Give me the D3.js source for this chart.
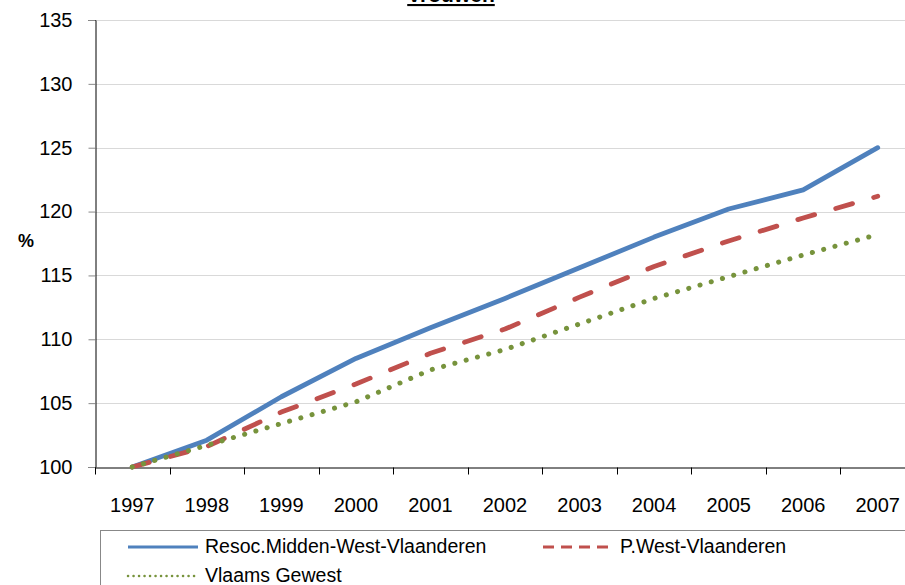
<!DOCTYPE html>
<html>
<head>
<meta charset="utf-8">
<script src="https://cdn.jsdelivr.net/npm/d3@7"></script>
<style>
  body { margin: 0; background: #fff; overflow: hidden; }
  text { font-family: "Liberation Sans", Arial, sans-serif; fill: #000; }
</style>
</head>
<body>
<div id="chart"></div>
<script>
// data
const years = ['1997', '1998', '1999', '2000', '2001', '2002', '2003', '2004', '2005', '2006', '2007'];
const resoc = [100, 102.1, 105.5, 108.5, 110.9, 113.2, 115.6, 118.0, 120.2, 121.7, 125.0];
const provincie = [100, 101.6, 104.3, 106.5, 108.9, 110.8, 113.3, 115.7, 117.7, 119.5, 121.2];
const vlaanderen = [100, 101.7, 103.4, 105.1, 107.6, 109.2, 111.2, 113.2, 114.9, 116.6, 118.2];
const yTicks = [100, 105, 110, 115, 120, 125, 130, 135];

const series = [
  { name: 'Resoc.Midden-West-Vlaanderen', values: resoc, color: '#4f81bd', dash: null, width: 4.8, legendDash: null },
  { name: 'P.West-Vlaanderen', values: provincie, color: '#c0504d', dash: '17.5 22', width: 4.8, legendDash: '11 7' },
  { name: 'Vlaams Gewest', values: vlaanderen, color: '#77933c', dash: '0.1 11.6', width: 5, legendDash: '0.1 5.4' }
];

const width = 905;
const height = 585;

const svg = d3.select('#chart').append('svg')
  .attr('width', width)
  .attr('height', height);

const x = d3.scaleBand().domain(years).range([95, 915]);
const y = d3.scaleLinear().domain([100, 135]).range([467, 20]);

// title (cut off at top, as in the original)
svg.append('text')
  .attr('x', 451).attr('y', 2)
  .attr('text-anchor', 'middle')
  .style('font-size', '21px').style('font-weight', 'bold')
  .style('text-decoration', 'underline')
  .text('Vrouwen');

// gridlines
svg.append('g').selectAll('line')
  .data(yTicks.filter(d => d > 100))
  .enter().append('line')
  .attr('x1', 95).attr('x2', width)
  .attr('y1', d => Math.round(y(d)) + 0.5).attr('y2', d => Math.round(y(d)) + 0.5)
  .attr('stroke', '#d9d9d9').attr('stroke-width', 1);

// y axis
const yAxis = svg.append('g')
  .attr('transform', 'translate(95.5,0)')
  .call(d3.axisLeft(y).tickValues(yTicks).tickSize(7).tickPadding(16));
yAxis.select('.domain').attr('stroke', '#000');
yAxis.selectAll('.tick line').attr('stroke', '#888');
yAxis.selectAll('text').style('font-size', '20px').style('font-family', '"Liberation Sans", Arial, sans-serif');

// x axis
const xAxis = svg.append('g')
  .attr('transform', 'translate(0,467.5)')
  .call(d3.axisBottom(x).tickSize(0).tickPadding(30).tickSizeOuter(0));
xAxis.select('.domain').attr('stroke', '#000');
xAxis.selectAll('text').style('font-size', '20px').style('font-family', '"Liberation Sans", Arial, sans-serif');
xAxis.selectAll('.mark')
  .data(years).enter().append('line')
  .attr('x1', d => Math.round(x(d)) + 0.5).attr('x2', d => Math.round(x(d)) + 0.5)
  .attr('y1', 0).attr('y2', 7)
  .attr('stroke', '#000');

// % label
svg.append('text')
  .attr('x', 26).attr('y', 247)
  .attr('text-anchor', 'middle')
  .style('font-size', '18px').style('font-weight', 'bold')
  .text('%');

// lines
const line = d3.line()
  .x((d, i) => x(years[i]) + x.bandwidth() / 2)
  .y(d => y(d));

svg.append('g').selectAll('path')
  .data(series)
  .enter().append('path')
  .attr('d', d => line(d.values))
  .attr('fill', 'none')
  .attr('stroke', d => d.color)
  .attr('stroke-width', d => d.width)
  .attr('stroke-dasharray', d => d.dash)
  .attr('stroke-linecap', 'round')
  .attr('stroke-linejoin', 'round');

// legend
const legend = svg.append('g');
legend.append('rect')
  .attr('x', 100.5).attr('y', 530.5)
  .attr('width', 820).attr('height', 70)
  .attr('fill', '#fff').attr('stroke', '#888');

const legendPos = [[128, 547], [543, 547], [128, 576]];
series.forEach((s, i) => {
  const [lx, ly] = legendPos[i];
  legend.append('line')
    .attr('x1', lx).attr('x2', lx + 70)
    .attr('y1', ly).attr('y2', ly)
    .attr('stroke', s.color)
    .attr('stroke-width', s.legendDash === '0.1 5.4' ? 2.5 : 3)
    .attr('stroke-dasharray', s.legendDash)
    .attr('stroke-linecap', s.legendDash === '0.1 5.4' ? 'round' : 'butt');
  legend.append('text')
    .attr('x', lx + 77).attr('y', ly + 6)
    .style('font-size', '19.5px')
    .text(s.name);
});
</script>
</body>
</html>
